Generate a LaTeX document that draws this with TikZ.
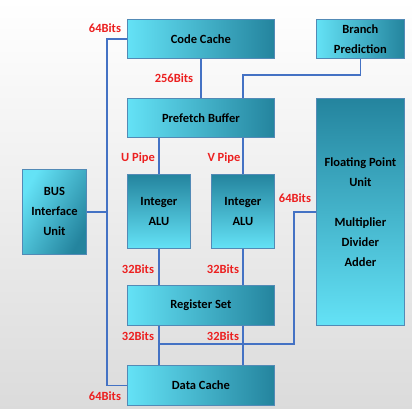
\documentclass[tikz,border=0pt]{standalone}
\usepackage{fontspec}
\setmainfont{Carlito}
\definecolor{busblue}{RGB}{68,114,196}
\definecolor{boxlight}{RGB}{100,226,246}
\definecolor{boxdark}{RGB}{36,132,158}
\definecolor{boxedge}{RGB}{82,138,182}
\definecolor{bitred}{RGB}{236,32,32}
\tikzset{
  unit/.style={draw=boxedge, line width=0.8pt, anchor=north west, inner sep=0pt,
    align=center, font=\bfseries\fontsize{12.5}{20}\selectfont},
  flat/.style={unit, left color=boxlight, right color=boxdark},
  tall/.style={unit, top color=boxdark, bottom color=boxlight},
  wire/.style={draw=busblue, line width=1.5pt},
  bits/.style={text=bitred, font=\bfseries\fontsize{12.5}{14}\selectfont}
}
\begin{document}
\begin{tikzpicture}[x=1pt,y=-1pt]
\useasboundingbox (0,0) rectangle (412,408);
\shade[top color=white, bottom color=black!14] (0,0) rectangle (412,408);

% boxes
\node[flat, minimum width=147pt, minimum height=39pt] (cc) at (127,19) {Code Cache};
\node[flat, minimum width=88pt, minimum height=39pt] (bp) at (316,19) {Branch\\Prediction};
\node[flat, minimum width=147pt, minimum height=39pt] (pb) at (127,98) {Prefetch Buffer};
\node[tall, minimum width=88pt, minimum height=227pt] (fpu) at (316,98) {Floating Point\\Unit\\ \\Multiplier\\Divider\\Adder};
\node[unit, left color=boxlight, right color=boxdark, shading angle=60, minimum width=64pt, minimum height=85pt] (biu) at (22,169) {BUS\\Interface\\Unit};
\node[tall, minimum width=63pt, minimum height=74pt] (alul) at (127,174) {Integer\\ALU};
\node[tall, minimum width=63pt, minimum height=74pt] (alur) at (211,174) {Integer\\ALU};
\node[flat, minimum width=147pt, minimum height=40pt] (rs) at (127,285) {Register Set};
\node[flat, minimum width=147pt, minimum height=40pt] (dc) at (127,365) {Data Cache};

% connectors
\coordinate (bus) at (107,212);
\coordinate (bpj) at (243,75);
\coordinate (fpj) at (294,344);
\draw[wire] (cc.west) -| (bus) |- (dc.west);
\draw[wire] (biu.east) -- (biu.east -| bus);
\draw[wire] (cc.south) -- (pb.north -| cc.south);
\draw[wire] (bp.south) |- (bpj) -- (bpj |- pb.north);
\draw[wire] (pb.south -| alul.north) -- (alul.north);
\draw[wire] (pb.south -| alur.north) -- (alur.north);
\draw[wire] (alul.south) -- (rs.north -| alul.south);
\draw[wire] (alur.south) -- (rs.north -| alur.south);
\draw[wire] (rs.south -| alul.south) -- (dc.north -| alul.south);
\draw[wire] (rs.south -| alur.south) -- (dc.north -| alur.south);
\draw[wire] (fpu.west) -| (fpj) -- (fpj -| alul.south);

% labels
\node[bits] (b64a) at (105,28) {64Bits};
\node[bits] (b256) at (174,78) {256Bits};
\node[bits] (up) at (138,158) {U Pipe};
\node[bits] (vp) at (224,158) {V Pipe};
\node[bits] (b64f) at (295,198) {64Bits};
\node[bits] (b32a) at (138,269) {32Bits};
\node[bits] (b32b) at (223,269) {32Bits};
\node[bits] (b32c) at (138,336) {32Bits};
\node[bits] (b32d) at (223,336) {32Bits};
\node[bits] (b64b) at (105,396) {64Bits};
\end{tikzpicture}
\end{document}
